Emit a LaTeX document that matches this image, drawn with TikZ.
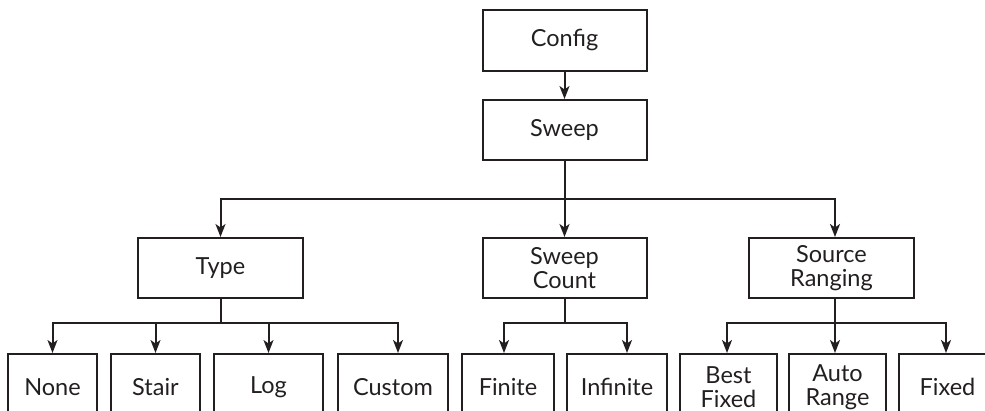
\documentclass[tikz,border=0pt]{standalone}
\usepackage{fontspec}
\setmainfont{Lato}
\usetikzlibrary{arrows.meta,calc}
\definecolor{ink}{HTML}{231F20}
\begin{document}
\begin{tikzpicture}[x=1pt,y=-1pt,
  box/.style={draw=ink,line width=2pt,text=ink,align=center,inner sep=0pt,
    font=\fontsize{23.5}{24}\selectfont},
  arr/.style={draw=ink,line width=2pt,-{Stealth[length=13pt,width=10pt,inset=3.5pt]}},
  ln/.style={draw=ink,line width=2pt}]
\useasboundingbox (0,0) rectangle (985,411);
% top
\node[box,minimum width=164pt,minimum height=61pt] (config) at (564.5,40.5) {Config};
\node[box,minimum width=164pt,minimum height=60pt] (sweep) at (564.5,130) {Sweep};
% middle
\node[box,minimum width=165pt,minimum height=60pt] (type) at (220.5,268) {Type};
\node[box,minimum width=164pt,minimum height=60pt] (sc) at (564.5,268) {Sweep\\Count};
\node[box,minimum width=165pt,minimum height=60pt] (src) at (831.5,268) {Source\\Ranging};
% bottom
\node[box,minimum width=89pt,minimum height=66pt] (none) at (52.5,387) {None};
\node[box,minimum width=89pt,minimum height=66pt] (stair) at (155.5,387) {Stair};
\node[box,minimum width=109pt,minimum height=66pt] (log) at (268.5,387) {Log};
\node[box,minimum width=110pt,minimum height=66pt] (custom) at (393,387) {Custom};
\node[box,minimum width=92pt,minimum height=66pt] (finite) at (508,387) {Finite};
\node[box,minimum width=100pt,minimum height=66pt] (infinite) at (617,387) {Infinite};
\node[box,minimum width=97pt,minimum height=66pt] (best) at (728.5,387) {Best\\Fixed};
\node[box,minimum width=97pt,minimum height=66pt] (auto) at (837.5,387) {Auto\\Range};
\node[box,minimum width=97pt,minimum height=66pt] (fixed) at (947.5,387) {Fixed};
% connectors
\draw[arr] (config) -- (sweep);
\draw[arr] (sweep) -- (sc);
\coordinate (j1) at (564.5,199);
\draw[arr] (j1) -| (type.north);
\draw[arr] (j1) -| ([xshift=3.5pt]src.north);
% type branch
\coordinate (j2) at (220.5,323);
\draw[ln] (type.south) -- (j2);
\draw[arr] (j2) -| (none.north);
\draw[arr] (j2) -| (stair.north);
\draw[arr] (j2) -| (log.north);
\draw[arr] (j2) -| ([xshift=5pt]custom.north);
% sweep count branch
\coordinate (j3) at (564.5,323);
\draw[ln] (sc.south) -- (j3);
\draw[arr] (j3) -| ([xshift=-4pt]finite.north);
\draw[arr] (j3) -| ([xshift=10pt]infinite.north);
% source ranging branch
\coordinate (j4) at (835,323);
\draw[ln] ([xshift=3.5pt]src.south) -- (j4);
\draw[arr] (j4) -| ([xshift=-1.5pt]best.north);
\draw[arr] (j4) -- ([xshift=-2.5pt]auto.north);
\draw[arr] (j4) -| ([xshift=-1.5pt]fixed.north);
\end{tikzpicture}
\end{document}
